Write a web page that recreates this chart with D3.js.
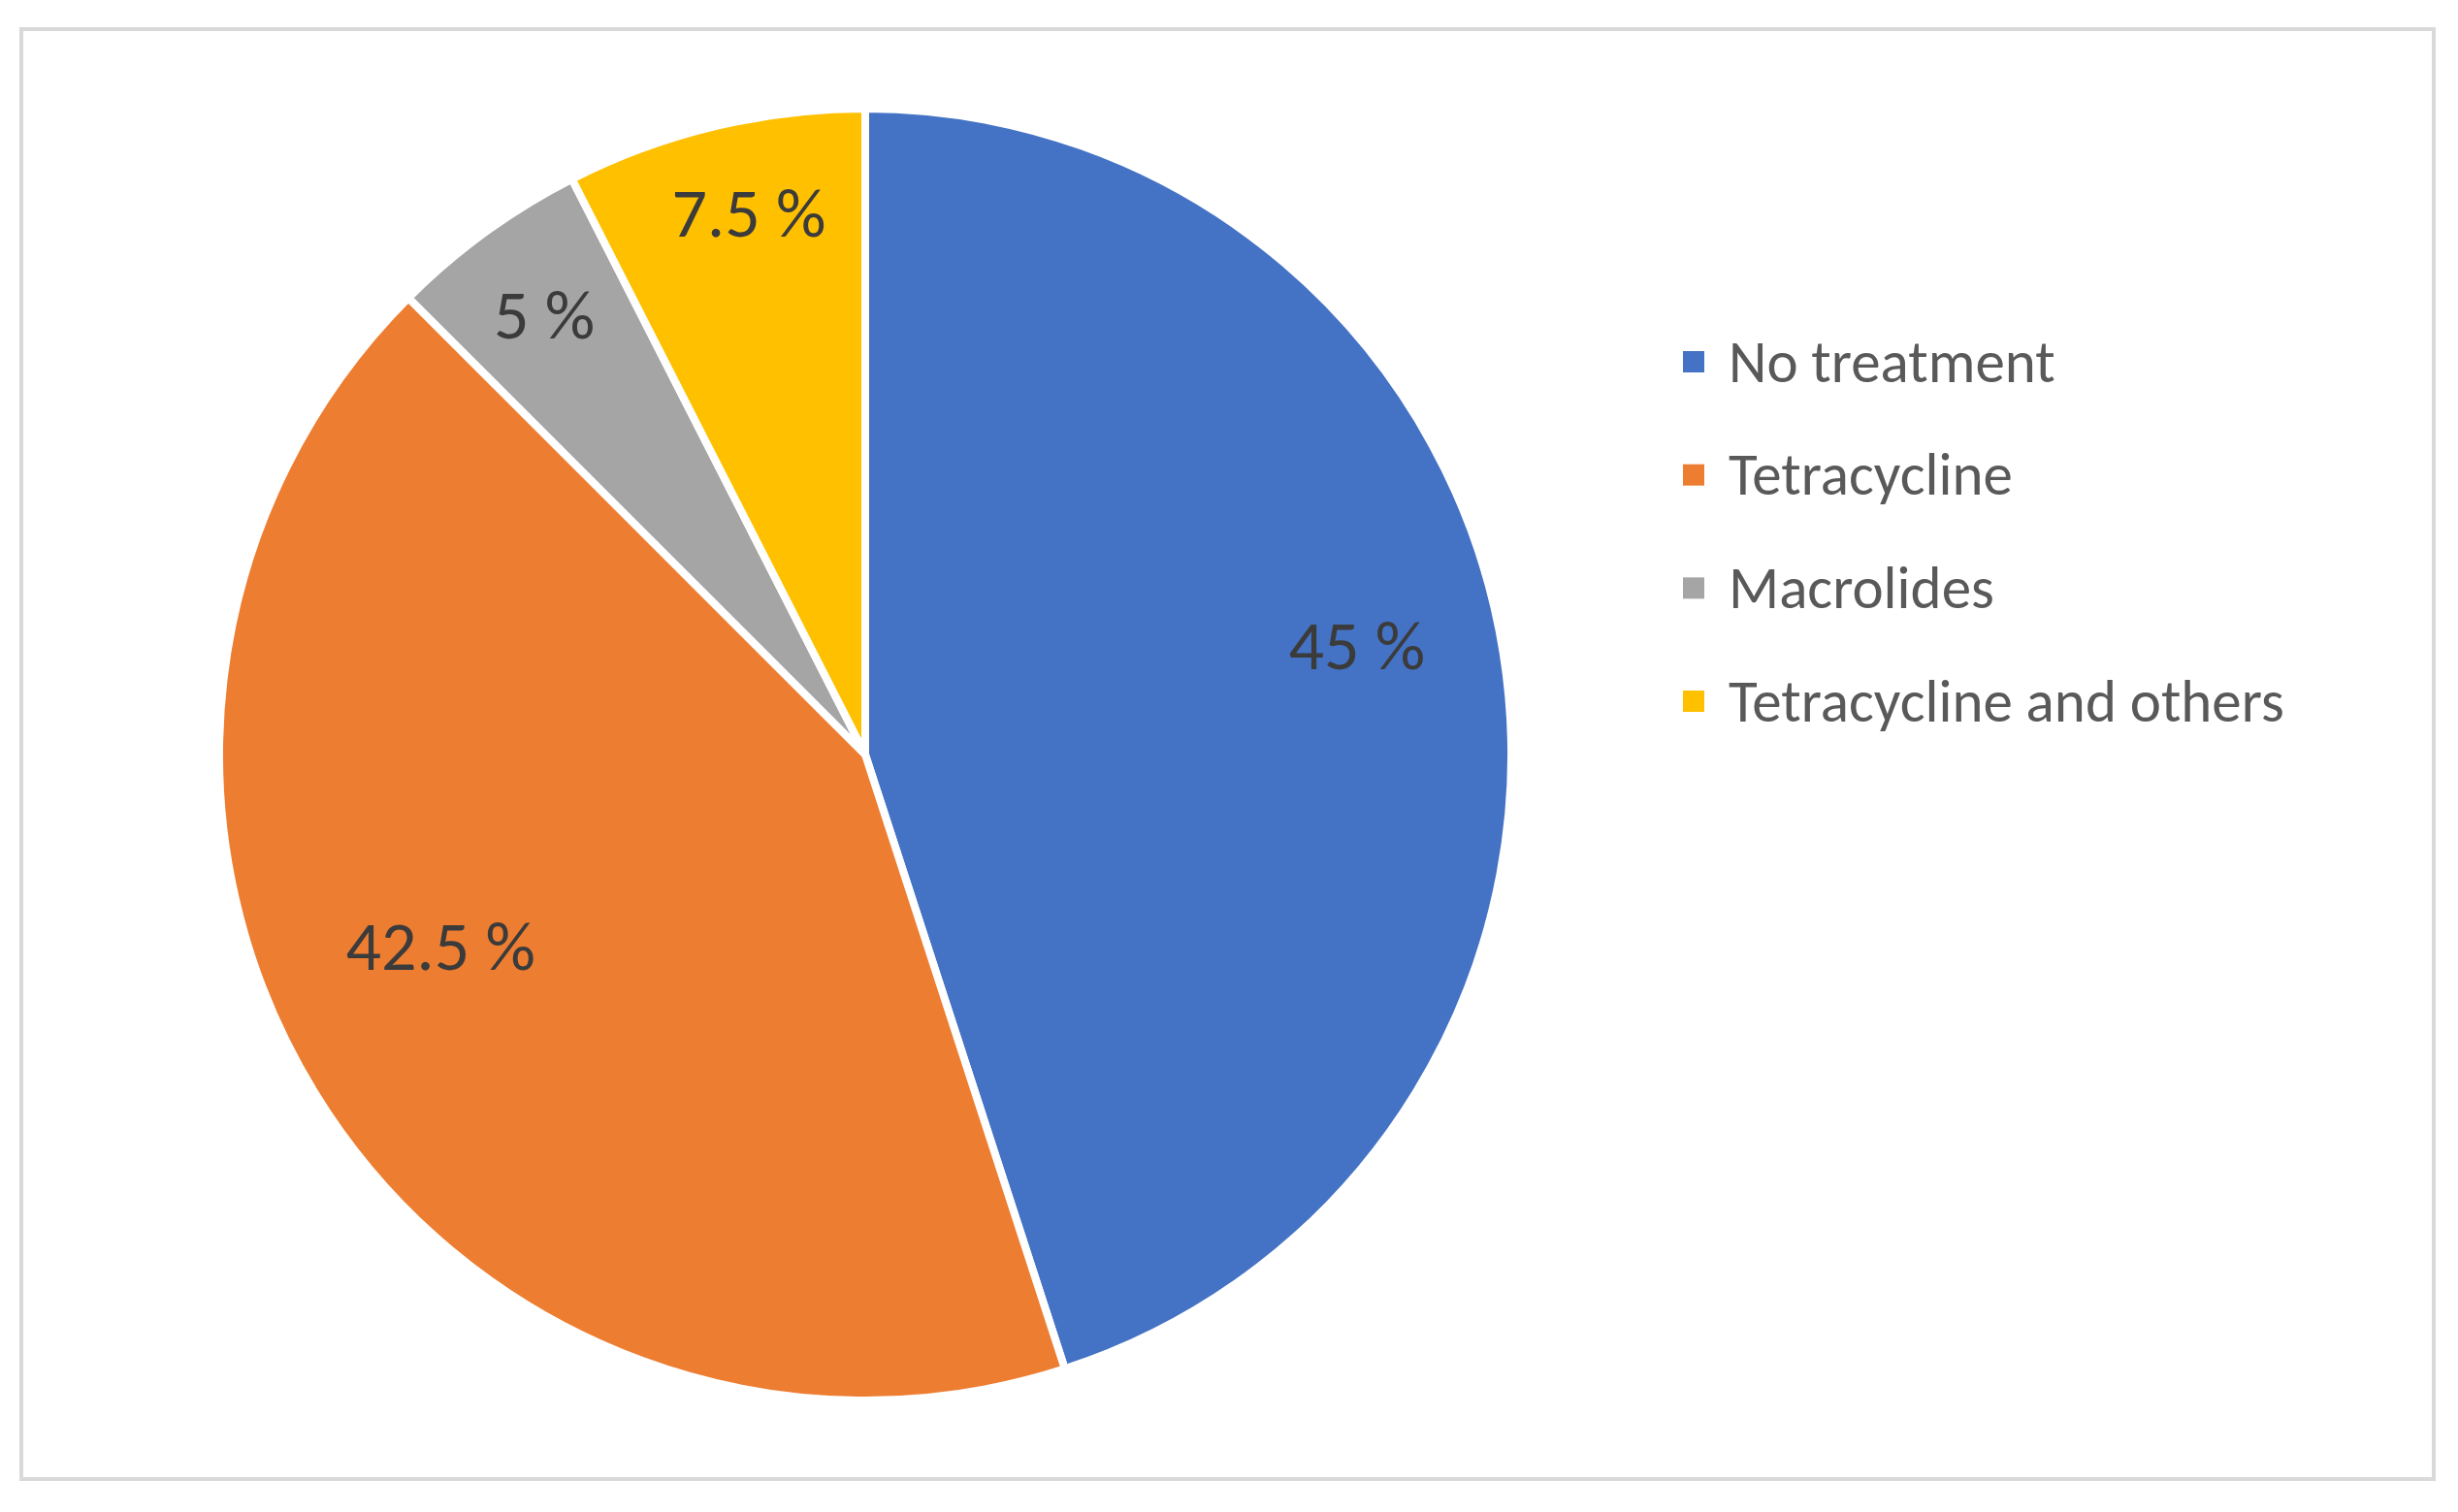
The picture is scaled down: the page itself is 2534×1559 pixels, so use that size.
<!DOCTYPE html>
<html>
<head>
	<title>Treatment pie</title>
	<script src="https://d3js.org/d3.v7.min.js"></script>
	<style>
		body{margin:0;background:#fff;}
		text{font-family: Carlito, Lato, sans-serif;}
		.slice-label{font-size:72px; fill:#3b3b3b;}
		.legend text{font-size:61px; fill:#595959;}
	</style>
</head>
<body>
	<div class="chart"></div>
	<script>
		// data
		const categories = ['No treatment', 'Tetracycline', 'Macrolides', 'Tetracycline and others'];
		const shares = [45, 42.5, 5, 7.5];
		const labels = ['45 %', '42.5 %', '5 %', '7.5 %'];
		const colors = ['#4472C4', '#ED7D31', '#A5A5A5', '#FFC000'];

		// label placement tweaks (degrees off mid-angle, fraction of radius)
		const labelShift = [-3.7, 7.4, 0, 1.4];
		const labelRadius = [0.78, 0.72, 0.845, 0.86];

		const W = 2534, H = 1559;
		const cx = 892, cy = 778, radius = 666;

		const svg = d3.select('.chart').append('svg')
					.attr('width', W).attr('height', H)

		svg.append('rect')
			.attr('x', 22).attr('y', 30)
			.attr('width', 2487).attr('height', 1495)
			.attr('fill', '#fff')
			.attr('stroke', '#d9d9d9')
			.attr('stroke-width', 4)

		const pie = d3.pie().sort(null).value(d => d)
		const arcs = pie(shares)
		const arc = d3.arc().innerRadius(0).outerRadius(radius)

		const chart = svg.append('g').attr('transform', `translate(${cx},${cy})`)

		chart.selectAll('path')
			.data(arcs)
			.join('path')
			.attr('d', arc)
			.attr('fill', (d, i) => colors[i])
			.attr('stroke', '#fff')
			.attr('stroke-width', 8)
			.attr('stroke-linejoin', 'round')

		chart.selectAll('.slice-label')
			.data(arcs)
			.join('text')
			.attr('class', 'slice-label')
			.attr('text-anchor', 'middle')
			.attr('dy', '0.36em')
			.attr('transform', (d, i) => {
				const a = (d.startAngle + d.endAngle) / 2 + labelShift[i] * Math.PI / 180;
				const r = radius * labelRadius[i];
				return `translate(${r * Math.sin(a)},${-r * Math.cos(a)})`;
			})
			.text((d, i) => labels[i])

		// legend
		const rowY = d3.scalePoint().domain(categories).range([373, 723])
		const legend = svg.append('g').attr('class', 'legend')
		const item = legend.selectAll('g')
			.data(categories)
			.join('g')
			.attr('transform', d => `translate(1735,${rowY(d)})`)

		item.append('rect')
			.attr('x', 0).attr('y', -11)
			.attr('width', 22).attr('height', 22)
			.attr('fill', (d, i) => colors[i])

		item.append('text')
			.attr('x', 47)
			.attr('dy', '0.34em')
			.text(d => d)
	</script>
</body>
</html>
